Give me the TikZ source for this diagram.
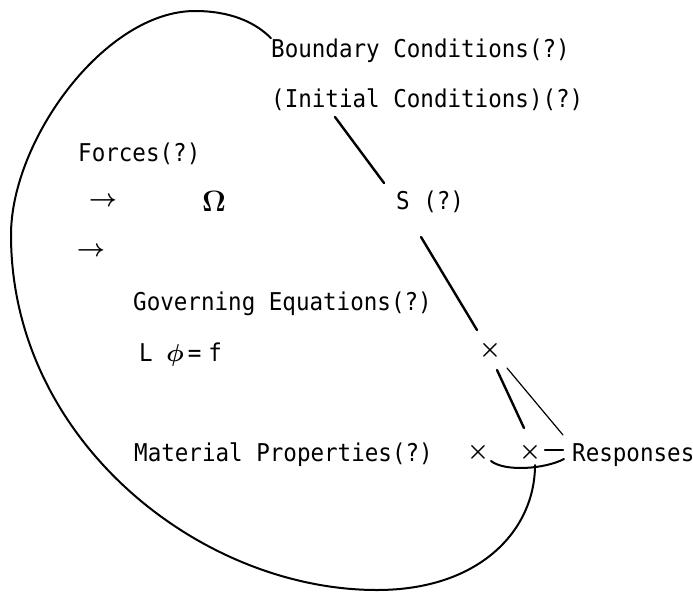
\RequirePackage{fix-cm}
\documentclass[tikz,border=0pt]{standalone}
\usepackage{amsmath}
\usepackage{graphicx}
\usepackage{fontspec}
\usepackage{tikz}
\usetikzlibrary{positioning, arrows.meta}
\newfontfamily\typefont[FakeStretch=0.92]{DejaVu Sans Mono}
\tikzset{
  label text/.style={
    inner sep=0pt, anchor=base west,
    font=\fontsize{24.5}{28}\selectfont\typefont
  },
  mark sym/.style={
    inner sep=0pt, anchor=center,
    font=\fontsize{24.5}{28}\selectfont\boldmath
  },
  outline/.style={draw, line width=2pt, line cap=round},
  thick link/.style={draw, line width=2.4pt, line cap=round},
  thin link/.style={draw, line width=1.2pt, line cap=round},
}

\begin{document}
\begin{tikzpicture}[x=1pt, y=-1pt]
  \useasboundingbox (0,0) rectangle (693,595);

  \node[label text] (bc)      at (271,57)  {Boundary Conditions(?)};
  \node[label text] (ic)      at (271,107) {(Initial Conditions)(?)};
  \node[label text] (forces)  at (78,161)  {Forces(?)};
  \node[mark sym]   (arrA)    at (103,202) {$\rightarrow$};
  \node[mark sym]   (omega)   at (214,201) {\scalebox{1.2}{$\Omega$}};
  \node[label text] (surf)    at (396,209) {S (?)};
  \node[mark sym]   (arrB)    at (91,252)  {$\rightarrow$};
  \node[label text] (goveq)   at (133,310) {Governing Equations(?)};
  \node[label text] (leq)     at (139,361) {L {\boldmath$\phi$}\hspace{4pt}=\hspace{7pt}f};
  \node[mark sym]   (xa)      at (490,350) {$\times$};
  \node[label text] (matprop) at (134,461) {Material Properties(?)};
  \node[mark sym]   (xb)      at (478,452) {$\times$};
  \node[mark sym]   (xc)      at (530,452) {$\times$};
  \node[label text] (resp)    at (572,461) {Responses};

  % lines from the boundary
  \path[thick link] (335,117) -- (384,183);
  \path[thick link] (421,237) -- (477,330);
  \path[thick link] (497,370) -- (524,428);
  \path[thin link]  (507,368) -- (563,435);
  \path[thick link] (545,450) -- (563,450);

  % brace under the responses
  \path[outline] (491,461) .. controls (505,472) and (545,469) .. (564,459);

  % the body
  \path[outline] (bc.north west) .. controls (255,22) and (230,11) .. (195,11)
        .. controls (105,11) and (11,140) .. (11,235)
        .. controls (11,440) and (200,590) .. (377,590)
        .. controls (480,590) and (535,530) .. (535,465);
\end{tikzpicture}
\end{document}
